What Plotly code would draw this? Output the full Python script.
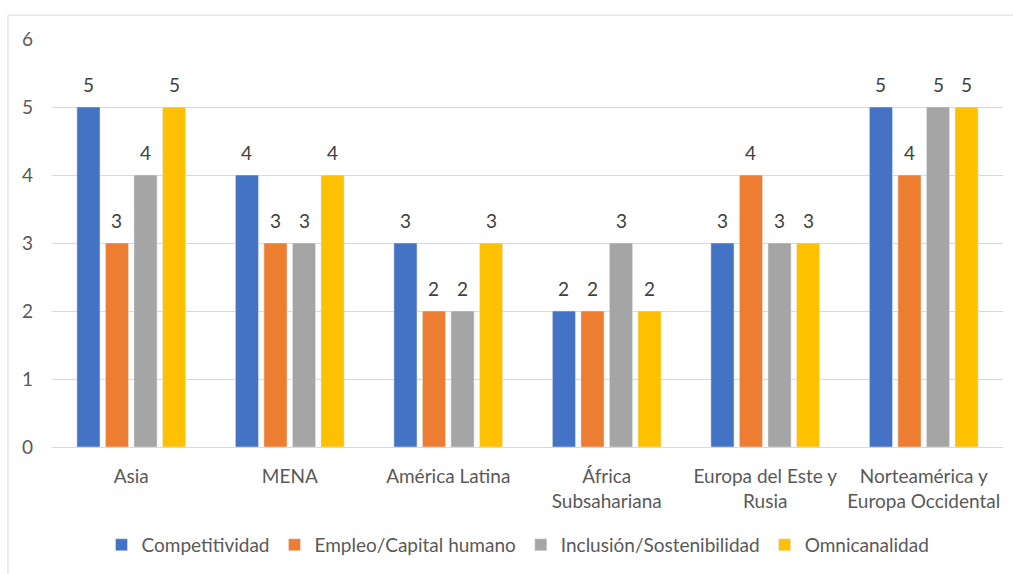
import plotly.graph_objects as go

categories = ["Asia", "MENA", "América Latina", "África<br>Subsahariana",
              "Europa del Este y<br>Rusia", "Norteamérica y<br>Europa Occidental"]
competitividad = [5, 4, 3, 2, 3, 5]
empleo = [3, 3, 2, 2, 4, 4]
inclusion = [4, 3, 2, 3, 3, 5]
omnicanalidad = [5, 4, 3, 2, 3, 5]

series = [
    ("Competitividad", competitividad, "#4472C4"),
    ("Empleo/Capital humano", empleo, "#ED7D31"),
    ("Inclusión/Sostenibilidad", inclusion, "#A5A5A5"),
    ("Omnicanalidad", omnicanalidad, "#FFC000"),
]

FONT = "Lato, Carlito, Calibri, sans-serif"
TXT = "#595959"
FS = 19
BARGAP = 0.28
n = len(series)

fig = go.Figure()
annotations = []
slot = (1 - BARGAP) / n
for i, (name, vals, color) in enumerate(series):
    fig.add_trace(go.Bar(x=categories, y=vals, name=name, marker_color=color))
    off = -(1 - BARGAP) / 2 + slot * (i + 0.5)
    for j, v in enumerate(vals):
        annotations.append(dict(
            x=j + off, y=v, xref="x", yref="y", text=str(v), showarrow=False,
            yanchor="middle", yshift=23,
            font=dict(family=FONT, size=FS, color="#404040"),
        ))

fig.update_layout(
    width=1013, height=574,
    margin=dict(l=52, r=10, t=39, b=125),
    paper_bgcolor="white", plot_bgcolor="white",
    barmode="group", bargap=BARGAP, bargroupgap=0.19,
    font=dict(family=FONT, size=FS, color=TXT),
    showlegend=True,
    legend=dict(orientation="h", x=0.49, xanchor="center", y=-0.24, yanchor="middle",
                font=dict(family=FONT, size=FS, color=TXT), itemwidth=30,
                traceorder="normal"),
    xaxis=dict(showgrid=False, showline=True, linecolor="#D9D9D9", linewidth=1,
               ticks="", tickfont=dict(family=FONT, size=FS, color=TXT), ticklabelstandoff=12),
    yaxis=dict(range=[0, 6], dtick=1, showgrid=True, gridcolor="#D9D9D9", gridwidth=1,
               zeroline=False, showline=False, ticks="", ticklabelstandoff=18,
               tickfont=dict(family=FONT, size=FS, color=TXT)),
    annotations=annotations,
    shapes=[
        dict(type="line", xref="paper", yref="paper", x0=-0.0463, x1=1.02, y0=1.0585, y1=1.0585,
             line=dict(color="#D9D9D9", width=1)),
        dict(type="line", xref="paper", yref="paper", x0=-0.0463, x1=-0.0463, y0=-0.4, y1=1.0585,
             line=dict(color="#D9D9D9", width=1)),
    ],
)

fig.write_html("out.html")
